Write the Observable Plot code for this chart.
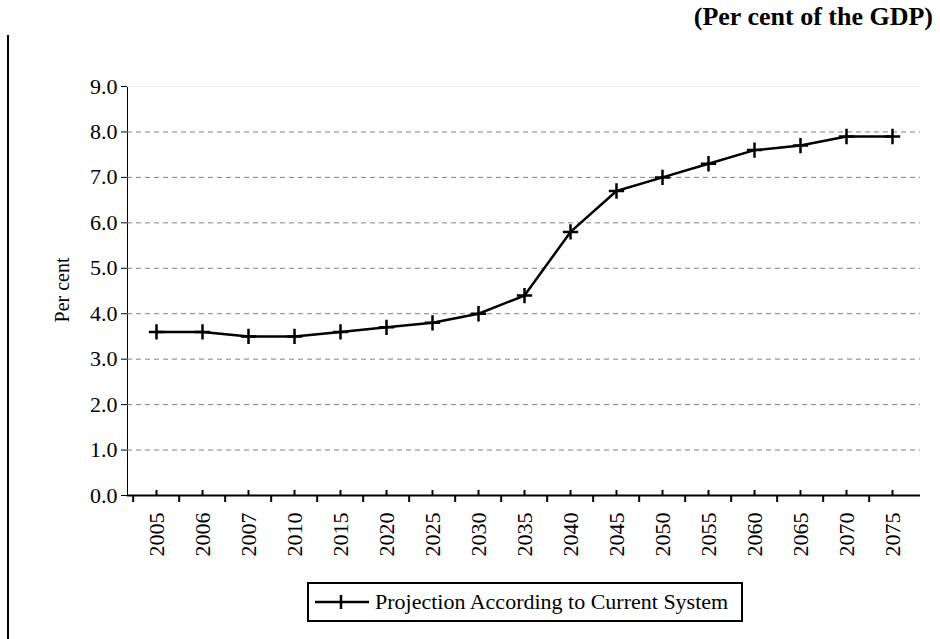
<!DOCTYPE html>
<html>
<head>
<meta charset="utf-8">
<script src="https://cdn.jsdelivr.net/npm/d3@7"></script>
<script src="https://cdn.jsdelivr.net/npm/@observablehq/plot@0.6"></script>
<style>
  body { margin: 0; background: #fff; }
  #wrap { position: relative; width: 940px; height: 639px; font-family: "Liberation Serif", "Times New Roman", serif; }
  #title { position: absolute; right: 7px; top: 2px; font-weight: bold; font-size: 26px; white-space: nowrap; font-family: "Liberation Serif", serif; }
  #leftline { position: absolute; left: 7px; top: 35px; width: 2px; height: 604px; background: #000; }
  #ylabel { position: absolute; left: 62px; top: 290px; transform: translate(-50%, -50%) rotate(-90deg); font-size: 20px; white-space: nowrap; font-family: "Liberation Serif", serif; }
  #legend { position: absolute; left: 307px; top: 582px; width: 436px; height: 40px; border: 2px solid #000; box-sizing: border-box; display: flex; align-items: center; font-size: 22px; font-family: "Liberation Serif", serif; }
  #legend svg { margin-left: 6px; margin-right: 6px; }
  #chart { position: absolute; left: 0; top: 0; }
  #chart svg, #chart svg text, #chart svg g { font-family: "Liberation Serif", serif !important; }
</style>
</head>
<body>
<div id="wrap">
  <div id="leftline"></div>
  <div id="title">(Per cent of the GDP)</div>
  <div id="chart"></div>
  <div id="ylabel">Per cent</div>
  <div id="legend">
    <svg width="54" height="16"><line x1="0" y1="8" x2="54" y2="8" stroke="#000" stroke-width="2.5"/><line x1="26" y1="1" x2="26" y2="15" stroke="#000" stroke-width="2.5"/></svg>
    <span>Projection According to Current System</span>
  </div>
</div>
<script>
const years = ["2005","2006","2007","2010","2015","2020","2025","2030","2035","2040","2045","2050","2055","2060","2065","2070","2075"];
const values = [3.6,3.6,3.5,3.5,3.6,3.7,3.8,4.0,4.4,5.8,6.7,7.0,7.3,7.6,7.7,7.9,7.9];
const yTicks = [0,1,2,3,4,5,6,7,8,9];
const gridLines = [1,2,3,4,5,6,7,8];

const data = years.map((y, i) => ({year: y, value: values[i]}));

const W = 940, H = 639, mL = 127, mR = 20, mT = 86, mB = 144;
const step = (W - mL - mR) / years.length;

const chart = Plot.plot({
  width: W,
  height: H,
  marginLeft: mL,
  marginRight: mR,
  marginTop: mT,
  marginBottom: mB,
  style: { fontFamily: "'Liberation Serif', serif", fontSize: "22px", background: "transparent", overflow: "visible", color: "#000" },
  x: { type: "point", domain: years, padding: 0.5, label: null, tickSize: 0, tickPadding: 17, tickRotate: -90 },
  y: { domain: [0, 9], ticks: yTicks, tickFormat: d => d.toFixed(1), tickSize: 6, tickPadding: 4, label: null, line: true },
  marks: [
    Plot.ruleY([9], { stroke: "#f0f0f0", strokeWidth: 1 }),
    Plot.ruleY(gridLines, { stroke: "#808080", strokeWidth: 1, strokeDasharray: "5,4" }),
    Plot.ruleY([0], { stroke: "#000", strokeWidth: 2 }),
    // boundary ticks (downward)
    Plot.ruleX(years, { x: d => d, y1: 0, y2: 0, dx: -step / 2, insetTop: 7, stroke: "#000", strokeWidth: 2 }),
    // centre ticks (upward)
    Plot.ruleX(years, { x: d => d, y1: 0, y2: 0, insetBottom: 5, stroke: "#000", strokeWidth: 2 }),
    Plot.line(data, { x: "year", y: "value", stroke: "#000", strokeWidth: 2.5 }),
    Plot.dot(data, { x: "year", y: "value", symbol: "plus", r: 5, stroke: "#000", strokeWidth: 2.5 })
  ]
});
document.getElementById("chart").appendChild(chart);
</script>
</body>
</html>
